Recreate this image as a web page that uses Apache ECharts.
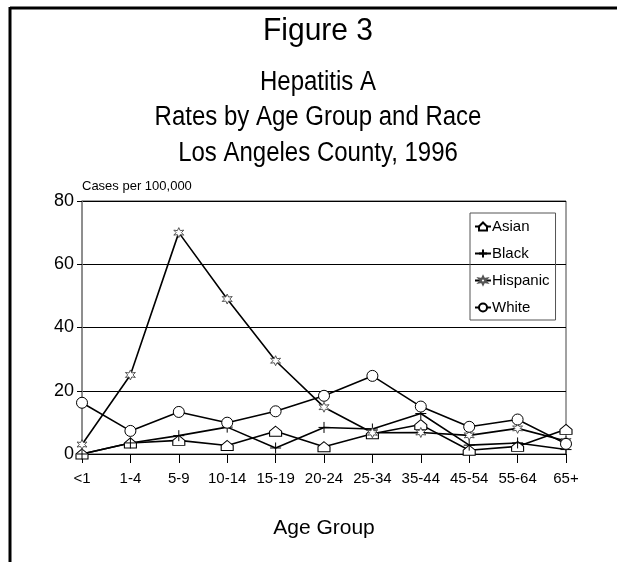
<!doctype html>
<html>
    <head>
        <meta charset="utf-8">
        <title>Hepatitis A - Rates by Age Group and Race</title>
        <style>
            html, body { margin: 0; padding: 0; background: #fff; }
            #main { width: 617px; height: 562px; }
        </style>
    </head>
    <body>
        <div id="main"></div>
        <script src="https://cdn.jsdelivr.net/npm/echarts@6/dist/echarts.min.js"></script>
        <script>
            var ageGroups = ['<1', '1-4', '5-9', '10-14', '15-19', '20-24', '25-34', '35-44', '45-54', '55-64', '65+'];
            var asian = [0, 3.5, 4.3, 2.7, 7.2, 2.3, 6.4, 9.3, 1.2, 2.4, 7.8];
            var black = [0, 3.5, 5.8, 8.5, 1.9, 8.4, 7.9, 12.8, 2.8, 3.5, 1.4];
            var hispanic = [3, 25, 70, 49, 29.5, 14.8, 6.7, 6.8, 5.9, 8.1, 4.1];
            var white = [16.2, 7.3, 13.3, 9.9, 13.5, 18.4, 24.7, 15, 8.6, 10.9, 3.2];
            var yTicks = [0, 20, 40, 60, 80];
            var titleLines = ['Hepatitis A', 'Rates by Age Group and Race', 'Los Angeles County, 1996'];

            var FONT = '"Liberation Sans", Arial, sans-serif';

            var chart = echarts.init(document.getElementById('main'));

            function mkSeries(name, data, symbol, size, stroke) {
                return {
                    name: name,
                    type: 'line',
                    data: data,
                    symbol: symbol,
                    symbolSize: size,
                    showAllSymbol: true,
                    lineStyle: { color: '#000', width: 1.6 },
                    itemStyle: { color: '#fff', borderColor: stroke || '#000', borderWidth: 1 },
                    emphasis: { disabled: true },
                    animation: false
                };
            }

            var graphics = [
                // page frame
                { type: 'line', shape: { x1: 10, y1: 8, x2: 617, y2: 8 }, style: { stroke: '#000', lineWidth: 3 } },
                { type: 'line', shape: { x1: 10, y1: 7, x2: 10, y2: 562 }, style: { stroke: '#000', lineWidth: 3 } },
                { type: 'text', x: 318, y: 31, scaleY: 1.05, style: { text: 'Figure 3', fontSize: 30, fontFamily: FONT, fill: '#000', align: 'center', verticalAlign: 'middle' } }
            ];
            titleLines.forEach(function (t, i) {
                graphics.push({
                    type: 'text', x: 318, y: 82 + i * 35.5, scaleY: 1.15,
                    style: { text: t, fontSize: 24, fontFamily: FONT, fill: '#000', align: 'center', verticalAlign: 'middle' }
                });
            });

            chart.setOption({
                backgroundColor: '#fff',
                textStyle: { fontFamily: FONT, color: '#000' },
                graphic: graphics,
                grid: {
                    left: 82,
                    right: 51,
                    top: 201,
                    bottom: 108,
                    show: true,
                    borderColor: '#444',
                    borderWidth: 1
                },
                legend: {
                    orient: 'vertical',
                    left: 470,
                    top: 213,
                    padding: [6, 6, 5, 4],
                    borderColor: '#555',
                    borderWidth: 1,
                    itemWidth: 16,
                    itemHeight: 10,
                    itemGap: 12,
                    textStyle: { fontSize: 15, color: '#000', fontFamily: FONT, padding: [0, 0, 0, -4] },
                    data: ['Asian', 'Black', 'Hispanic', 'White']
                },
                xAxis: {
                    type: 'category',
                    data: ageGroups,
                    boundaryGap: false,
                    name: 'Age Group',
                    nameLocation: 'middle',
                    nameGap: 64,
                    nameTextStyle: { fontSize: 21, color: '#000' },
                    axisLine: { lineStyle: { color: '#000', width: 1 } },
                    axisTick: { show: true, length: 9, lineStyle: { color: '#000' } },
                    axisLabel: { fontSize: 15, color: '#000', margin: 17, interval: 0 },
                    splitLine: { show: false }
                },
                yAxis: {
                    type: 'value',
                    min: yTicks[0],
                    max: yTicks[yTicks.length - 1],
                    interval: 20,
                    name: 'Cases per 100,000',
                    nameLocation: 'end',
                    nameGap: 8,
                    nameTextStyle: { fontSize: 13, color: '#000', align: 'left' },
                    axisLine: { show: true, lineStyle: { color: '#888', width: 1.5 } },
                    axisTick: { show: true, length: 5, lineStyle: { color: '#000' } },
                    axisLabel: { fontSize: 18, color: '#000', margin: 8 },
                    splitLine: { show: true, lineStyle: { color: '#000', width: 1 } }
                },
                series: [
                    mkSeries('Asian', asian, 'path://M5,0 L10,4.5 L10,9 L0,9 L0,4.5 Z', [12, 10]),
                    mkSeries('Black', black, 'path://M5,0 L5,10 M0,5 L10,5', 11),
                    mkSeries('Hispanic', hispanic, 'path://M5,0 L6.2,3 L9.3,2.5 L7.3,5 L9.3,7.5 L6.2,7 L5,10 L3.8,7 L0.7,7.5 L2.7,5 L0.7,2.5 L3.8,3 Z', 10, '#555'),
                    mkSeries('White', white, 'circle', 11)
                ]
            });

            window.addEventListener('resize', function () {
                chart.resize();
            });
        </script>
    </body>
</html>
